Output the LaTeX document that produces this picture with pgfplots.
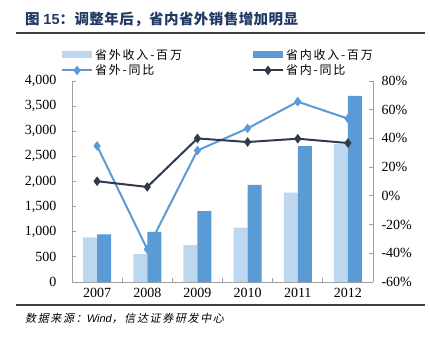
\documentclass[border=0pt]{standalone}
\usepackage{fontspec}
\usepackage{pgfplots}
\pgfplotsset{compat=1.18}
\setmainfont{Liberation Serif}
\newfontfamily\cjk{Noto Sans CJK SC}
\newfontfamily\cjkleg{Noto Sans CJK SC}[LetterSpace=15]
\newfontfamily\cjktitle{Noto Sans CJK SC}[LetterSpace=3]
\newfontfamily\cjkit{Noto Sans CJK SC}[FakeSlant=0.2, LetterSpace=15]
\newfontfamily\arial{Liberation Sans}
\definecolor{lightbar}{HTML}{BDD7EE}
\definecolor{darkbar}{HTML}{5B9BD5}
\definecolor{lineA}{HTML}{5B9BD5}
\definecolor{lineB}{HTML}{2F3B4C}
\definecolor{titleblue}{HTML}{1F3864}
\definecolor{axisgray}{HTML}{A0A0A0}
\pgfplotsset{
  barleg/.style={legend image code/.code={\fill[##1] (0pt,-3.5pt) rectangle (30pt,3.5pt);}},
  lineleg/.style={legend image code/.code={\draw[mark repeat=2,mark phase=2,##1] plot coordinates {(0pt,0pt) (15pt,0pt) (30pt,0pt)};}},
  common/.style={scale only axis, width=301pt, height=201pt, at={(72pt,-282pt)}, anchor=south west,
    xmin=-0.5, xmax=5.5, tick align=inside,
    axis line style={axisgray, line width=0.8pt},
    tick style={axisgray, line width=0.8pt},
    major tick length=4pt, minor tick length=4pt,
    ticklabel style={font=\fontsize{14}{16}\selectfont, text=black},
    /pgf/number format/assume math mode=true}
}
\begin{document}
\begin{tikzpicture}
\path[use as bounding box] (0pt,0pt) rectangle (430pt,-340pt);
\begin{axis}[common,
  ymin=0, ymax=4000,
  axis y line*=left, axis x line*=bottom,
  xtick={0,1,2,3,4,5}, xticklabels={2007,2008,2009,2010,2011,2012},
  major x tick style={draw=none},
  minor xtick={0.5,1.5,2.5,3.5,4.5},
  ytick={0,500,...,4000},
  /pgf/number format/1000 sep={,},
  yticklabel style={xshift=-12pt},
  xticklabel style={yshift=-3pt},
]
\addplot[ybar, bar width=14pt, bar shift=-7pt, fill=lightbar, draw=none] coordinates {(0,887) (1,556) (2,735) (3,1080) (4,1781) (5,2744)};
\addplot[ybar, bar width=14pt, bar shift=7pt, fill=darkbar, draw=none] coordinates {(0,947) (1,1000) (2,1410) (3,1934) (4,2702) (5,3704)};
\end{axis}
\begin{axis}[common,
  ymin=-60, ymax=80,
  axis y line*=right, axis x line=none,
  ytick={-60,-40,...,80},
  yticklabels={-60\%,-40\%,-20\%,0\%,20\%,40\%,60\%,80\%},
  yticklabel style={xshift=5pt},
  legend columns=2,
  legend cell align=left,
  legend style={draw=none, fill=none, at={(axis description cs:-0.047,1.18)}, anchor=north west,
    font=\cjkleg\fontsize{12}{14}\selectfont, row sep=0pt,
    /tikz/every even column/.append style={column sep=68pt}},
]
\addlegendimage{barleg, fill=lightbar, draw=none}
\addlegendentry{省外收入-百万}
\addlegendimage{barleg, fill=darkbar, draw=none}
\addlegendentry{省内收入-百万}
\addplot[lineA, line width=2pt, mark=diamond*, mark size=3.2pt, mark options={solid}, lineleg] coordinates {(0,34.8) (1,-37.2) (2,31.6) (3,47) (4,65.6) (5,53.8)};
\addlegendentry{省外-同比}
\addplot[lineB, line width=2pt, mark=diamond*, mark size=3.2pt, mark options={solid}, lineleg] coordinates {(0,10.2) (1,6.2) (2,40) (3,37.5) (4,39.8) (5,36.8)};
\addlegendentry{省内-同比}
\end{axis}
\node[anchor=west, text=titleblue, inner sep=0pt] at (25pt,-19pt) {\cjktitle\bfseries\fontsize{14.5}{16}\selectfont 图 {\arial\bfseries 15}：调整年后，省内省外销售增加明显};
\draw[color=black!75, line width=1.3pt] (16pt,-33pt) -- (425pt,-33pt);
\draw[color=black!75, line width=1.3pt] (16pt,-305pt) -- (425pt,-305pt);
\node[anchor=west, inner sep=0pt] at (25pt,-318pt) {\cjkit\fontsize{11}{13}\selectfont 数据来源：{\arial\itshape Wind}，信达证券研发中心};
\end{tikzpicture}
\end{document}
